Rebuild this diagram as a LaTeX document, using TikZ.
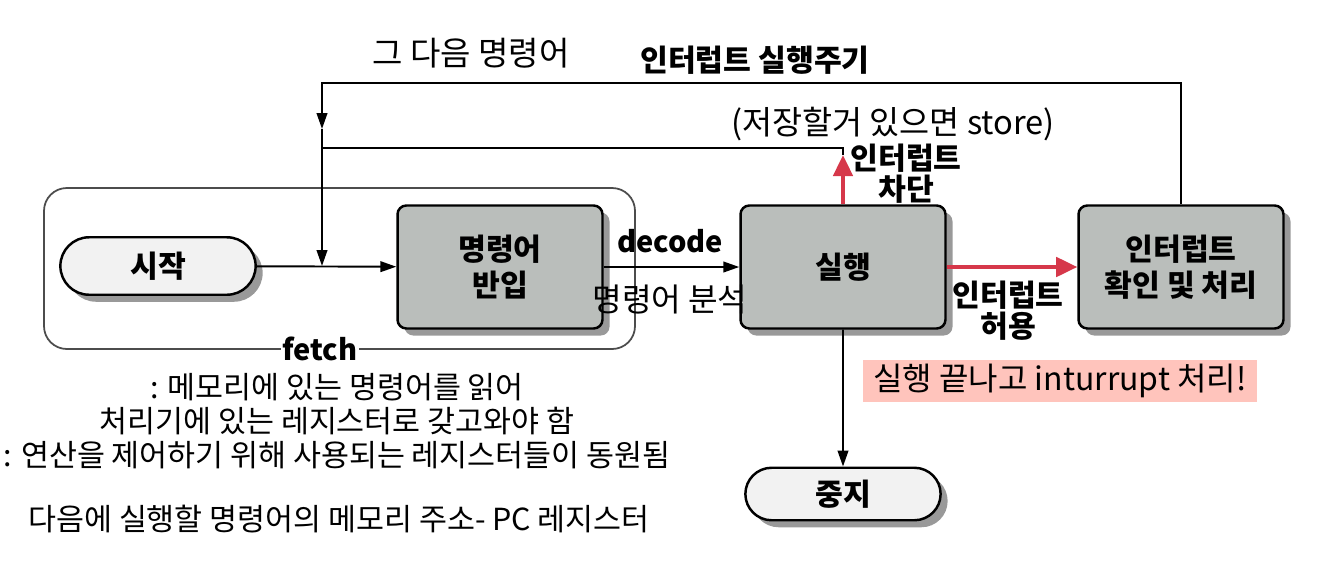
\documentclass[tikz,border=0pt]{standalone}
\usepackage{fontspec}
\setmainfont{Noto Sans CJK KR}
\usetikzlibrary{arrows.meta,shapes.misc,shadows}
\definecolor{boxgray}{RGB}{186,190,187}
\definecolor{padgray}{RGB}{242,242,242}
\definecolor{intred}{RGB}{214,56,74}
\definecolor{notepink}{RGB}{255,196,188}
\tikzset{
  procbox/.style={draw,line width=1.4pt,rounded corners=5pt,fill=boxgray,minimum width=4.1cm,minimum height=2.46cm,align=center,
    font=\fontsize{17.2}{20.5}\selectfont\bfseries,drop shadow={shadow xshift=4pt,shadow yshift=-4pt,fill=gray!80,opacity=1}},
  termbox/.style={draw,line width=1.4pt,rounded rectangle,fill=padgray,minimum width=4.14cm,minimum height=1.15cm,
    font=\fontsize{17.2}{20.5}\selectfont\bfseries,drop shadow={shadow xshift=4pt,shadow yshift=-4pt,fill=gray!80,opacity=1}},
  flow/.style={line width=1.1pt,-{Triangle[length=9pt,width=6pt]}},
  intflow/.style={line width=2.2pt,draw=intred,-{Triangle[length=12pt,width=11pt]}},
  plain/.style={font=\fontsize{17.3}{19.3}\selectfont,align=center,inner sep=1pt},
  strong/.style={font=\fontsize{17.2}{17.5}\selectfont\bfseries,align=center,inner sep=1pt},
}
\begin{document}
\begin{tikzpicture}[x=0.02cm,y=-0.02cm]
\useasboundingbox (0,0) rectangle (1330,562);
% fetch group
\draw[line width=1pt,draw=black!70,rounded corners=13pt] (44,188) rectangle (635,349);
\node[termbox] (start) at (158,266) {시작};
\node[procbox] (load) at (500,267) {명령어\\반입};
\node[procbox] (exec) at (843,267) {실행};
\node[procbox] (intr) at (1181,267) {인터럽트\\확인 및 처리};
\node[termbox,minimum height=1.05cm] (halt) at (843,494) {중지};
% junctions
\coordinate (jn) at (322,266);
\coordinate (loopcorner) at (322,83);
\coordinate (looptip) at (322,129);
\coordinate (blocktip) at (843,155);
\coordinate (backjoin) at (322,148);
% connectors
\draw[flow] (start) -- (load);
\draw[flow] (load) -- (exec);
\draw[flow] (exec) -- (halt);
\draw[flow] (intr.north) |- (loopcorner) -- (looptip);
\draw[flow] (looptip) -- (jn);
\draw[line width=1.1pt] (blocktip) |- (backjoin);
\draw[intflow] (exec) -- (intr);
\draw[intflow] (exec.north) -- (blocktip);
% labels
\node[plain,font=\fontsize{18.8}{20}\selectfont] (nextlbl) at (471,53) {그 다음 명령어};
\node[strong] (cyclelbl) at (755,60) {인터럽트 실행주기};
\node[plain,font=\fontsize{18.6}{20}\selectfont] (storelbl) at (893,124) {(저장할거 있으면 store)};
\node[strong] (blocklbl) at (906,174) {인터럽트\\차단};
\node[strong] (allowlbl) at (1008,311) {인터럽트\\허용};
\node[strong,font=\fontsize{16.5}{19}\selectfont\bfseries] (decodelbl) at (670,241) {decode};
\node[plain,font=\fontsize{18.3}{20}\selectfont] (analyzelbl) at (670,300) {명령어 분석};
\node[strong,font=\fontsize{16.5}{19}\selectfont\bfseries,fill=white] (fetchlbl) at (320,349) {fetch};
\node[plain,font=\fontsize{18.2}{20}\selectfont,fill=notepink,minimum width=7.9cm,minimum height=0.84cm] (notelbl) at (1060,381) {실행 끝나고 inturrupt 처리!};
\node[plain] (fetchnote) at (337,421) {: 메모리에 있는 명령어를 읽어\\처리기에 있는 레지스터로 갖고와야 함\\: 연산을 제어하기 위해 사용되는 레지스터들이 동원됨};
\node[plain] (pcnote) at (339,519) {다음에 실행할 명령어의 메모리 주소- PC 레지스터};
\end{tikzpicture}
\end{document}
